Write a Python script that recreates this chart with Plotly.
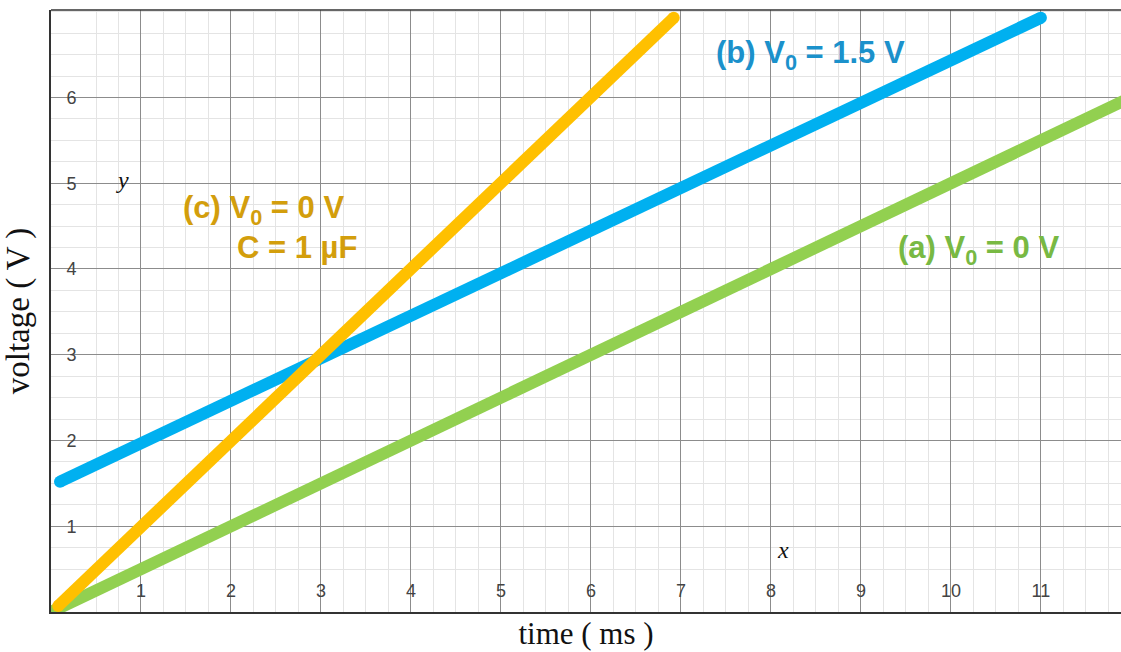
import plotly.graph_objects as go

# Data
time_a = [0.0, 12.0]
volt_a = [0.0, 6.0]
time_b = [0.1, 11.0]
volt_b = [1.52, 6.93]
time_c = [0.08, 6.92]
volt_c = [0.07, 6.93]

x_ticks = [1, 2, 3, 4, 5, 6, 7, 8, 9, 10, 11]
y_ticks = [1, 2, 3, 4, 5, 6]

green = "#92D050"
blue = "#00B0F0"
orange = "#FFC000"
LW = 12

fig = go.Figure()
for tx, vy, col in [(time_a, volt_a, green), (time_b, volt_b, blue), (time_c, volt_c, orange)]:
    fig.add_trace(go.Scatter(x=tx, y=vy, mode="lines", line=dict(color=col, width=LW),
                             hoverinfo="skip", showlegend=False))
    fig.add_trace(go.Scatter(x=tx, y=vy, mode="markers",
                             marker=dict(color=col, size=LW, line=dict(width=0)),
                             hoverinfo="skip", showlegend=False))

label_font = "Liberation Sans, Arial, sans-serif"
serif = "Liberation Serif, Times New Roman, serif"

fig.update_layout(
    width=1121, height=652,
    margin=dict(l=51, r=0, t=10, b=40),
    paper_bgcolor="white", plot_bgcolor="white",
    showlegend=False,
    xaxis=dict(
        range=[0, 11.89], tickmode="array", tickvals=x_ticks,
        ticktext=[str(v) for v in x_ticks],
        showgrid=True, gridcolor="#8c8c8c", gridwidth=1,
        minor=dict(dtick=0.25, tick0=0, showgrid=True, gridcolor="#e4e4e4", gridwidth=1),
        showline=True, linecolor="#333333", linewidth=2,
        ticks="", ticklabelposition="inside", ticklabelstandoff=12,
        tickfont=dict(family=label_font, size=18, color="#444444"),
        zeroline=False, automargin=False,
        title=dict(text="time ( ms )", font=dict(family=serif, size=31, color="#111111"), standoff=22),
    ),
    yaxis=dict(
        range=[0, 7.02], tickmode="array", tickvals=y_ticks,
        ticktext=[str(v) for v in y_ticks],
        showgrid=True, gridcolor="#8c8c8c", gridwidth=1,
        minor=dict(dtick=0.25, tick0=0, showgrid=True, gridcolor="#e4e4e4", gridwidth=1),
        showline=True, linecolor="#333333", linewidth=2,
        ticks="", ticklabelposition="inside", ticklabelstandoff=16,
        tickfont=dict(family=label_font, size=18, color="#444444"),
        zeroline=False, automargin=False,
        title=dict(text="voltage ( V )", font=dict(family=serif, size=33, color="#111111"), standoff=30),
    ),
    shapes=[dict(type="line", xref="paper", yref="paper", x0=0, x1=1, y0=1, y1=1,
                 line=dict(color="#333333", width=1.5))],
)


def px_to_x(px):
    return (px - 50.5) / 90.0


def px_to_y(py):
    return (611.7 - py) / 85.7


texts = [
    ("<b>(b) V<sub>0</sub> = 1.5 V</b>", 714, 55, "#1B91CB"),
    ("<b>(c) V<sub>0</sub> = 0 V</b>", 181, 210, "#D39E0C"),
    ("<b>C = 1 µF</b>", 235, 247, "#D39E0C"),
    ("<b>(a) V<sub>0</sub> = 0 V</b>", 896, 250, "#78B943"),
]
for t, xp, yp, c in texts:
    fig.add_annotation(x=px_to_x(xp), y=px_to_y(yp), xref="x", yref="y", text=t, showarrow=False,
                       xanchor="left", yanchor="middle",
                       font=dict(family=label_font, size=31, color=c))

for t, xp, yp in [("y", 122, 180), ("x", 783, 550)]:
    fig.add_annotation(x=px_to_x(xp), y=px_to_y(yp), xref="x", yref="y", text="<i>" + t + "</i>",
                       showarrow=False, xanchor="center", yanchor="middle",
                       font=dict(family=serif, size=24, color="#111111"))

fig.write_html("out.html", config={"displayModeBar": False},
               post_script="document.body.style.margin='0';document.body.style.overflow='hidden';")
